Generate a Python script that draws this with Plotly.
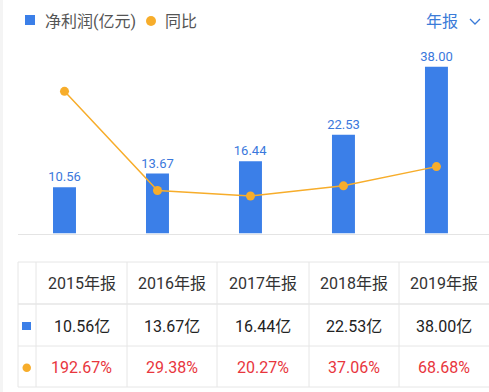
import plotly.graph_objects as go

# ---- data ----
years = ["2015年报", "2016年报", "2017年报", "2018年报", "2019年报"]
profit = [10.56, 13.67, 16.44, 22.53, 38.00]
yoy = [192.67, 29.38, 20.27, 37.06, 68.68]
legend_profit = "净利润(亿元)"
legend_yoy = "同比"
period_label = "年报"

W, H = 489, 392
BLUE = "#3B7FE8"
ORANGE = "#F7AD2B"
RED = "#E8363D"
FONT = "Roboto, Noto Sans CJK SC, sans-serif"


def xp(px):
    return px / W


def yp(py):
    return 1 - py / H


fig = go.Figure()
fig.add_trace(go.Bar(
    x=years, y=profit, width=0.247, marker=dict(color=BLUE, line=dict(width=0)),
    texttemplate="%{y:.2f}", textposition="outside", cliponaxis=False,
    constraintext="none",
    textfont=dict(color="#3A78DC", size=13, family=FONT), showlegend=False,
    hoverinfo="skip"))
fig.add_trace(go.Scatter(
    x=years, y=yoy, yaxis="y2", mode="lines+markers",
    line=dict(color=ORANGE, width=1.5), marker=dict(color=ORANGE, size=9),
    showlegend=False, hoverinfo="skip"))

fig.update_layout(
    width=W, height=H, margin=dict(l=0, r=0, t=0, b=0),
    paper_bgcolor="white", plot_bgcolor="white",
    font=dict(family=FONT),
    xaxis=dict(domain=[xp(18), 1], range=[-0.5, 4.565], showticklabels=False,
               showgrid=False, zeroline=False, showline=True,
               linecolor="#e4e4e4", linewidth=1, ticks=""),
    yaxis=dict(domain=[yp(233.5), yp(58)], range=[0, 40], visible=False),
    yaxis2=dict(domain=[yp(233.5), yp(58)], range=[-41.5, 247.6],
                overlaying="y", visible=False),
)

shapes = []
annotations = []

# left gray strip
shapes.append(dict(type="rect", xref="paper", yref="paper", x0=0, x1=xp(3),
                   y0=0, y1=1, fillcolor="#f4f4f4", line=dict(width=0), layer="below"))

# legend
shapes.append(dict(type="rect", xref="paper", yref="paper", x0=xp(25), x1=xp(35),
                   y0=yp(25), y1=yp(15), fillcolor=BLUE, line=dict(width=0)))
annotations.append(dict(x=xp(43), y=yp(21), xref="paper", yref="paper", text=legend_profit,
                        showarrow=False, xanchor="left", yanchor="middle",
                        font=dict(size=16, color="#555555", family=FONT)))
shapes.append(dict(type="circle", xref="paper", yref="paper", x0=xp(146), x1=xp(156),
                   y0=yp(26), y1=yp(16), fillcolor=ORANGE, line=dict(width=0)))
annotations.append(dict(x=xp(163), y=yp(21), xref="paper", yref="paper", text=legend_yoy,
                        showarrow=False, xanchor="left", yanchor="middle",
                        font=dict(size=16, color="#555555", family=FONT)))
annotations.append(dict(x=xp(441.5), y=yp(21), xref="paper", yref="paper", text=period_label,
                        showarrow=False, xanchor="center", yanchor="middle",
                        font=dict(size=16, color="#3B7BD8", family=FONT)))
shapes.append(dict(type="path", xref="paper", yref="paper",
                   path=f"M {xp(470)},{yp(19)} L {xp(475)},{yp(24)} L {xp(480)},{yp(19)}",
                   line=dict(color="#3B7BD8", width=1.3)))

# table grid
LINE = "#e6e6e6"
col_x = [18, 36, 127, 217, 309, 399, 489]
row_y = [262, 304, 346, 387]
for i, ry in enumerate(row_y):
    shapes.append(dict(type="line", xref="paper", yref="paper", x0=xp(18), x1=1,
                       y0=yp(ry), y1=yp(ry),
                       line=dict(color="#ececec" if i == 1 else LINE, width=2 if i == 1 else 1)))
for cx in col_x[:-1]:
    shapes.append(dict(type="line", xref="paper", yref="paper", x0=xp(cx), x1=xp(cx),
                       y0=yp(262), y1=yp(387), line=dict(color=LINE, width=1)))

row_centers = [283.5, 326.5, 367.5]
for j in range(len(years)):
    cx = (col_x[j + 1] + col_x[j + 2]) / 2
    annotations.append(dict(x=xp(cx), y=yp(row_centers[0]), xref="paper", yref="paper",
                            text=years[j], showarrow=False, xanchor="center", yanchor="middle",
                            font=dict(size=16, color="#333333", family=FONT)))
    annotations.append(dict(x=xp(cx), y=yp(row_centers[1]), xref="paper", yref="paper",
                            text=f"{profit[j]:.2f}亿", showarrow=False, xanchor="center",
                            yanchor="middle", font=dict(size=16, color="#222222", family=FONT)))
    annotations.append(dict(x=xp(cx), y=yp(row_centers[2]), xref="paper", yref="paper",
                            text=f"{yoy[j]:.2f}%", showarrow=False, xanchor="center",
                            yanchor="middle", font=dict(size=16, color=RED, family=FONT)))

# first column markers
shapes.append(dict(type="rect", xref="paper", yref="paper", x0=xp(22), x1=xp(31),
                   y0=yp(330), y1=yp(322), fillcolor=BLUE, line=dict(width=0)))
shapes.append(dict(type="circle", xref="paper", yref="paper", x0=xp(22.5), x1=xp(31),
                   y0=yp(372), y1=yp(363.5), fillcolor=ORANGE, line=dict(width=0)))

fig.update_layout(shapes=shapes, annotations=annotations)
fig.write_html("out.html", config={"displayModeBar": False},
               post_script="document.body.style.margin='0';document.body.style.overflow='hidden';")
